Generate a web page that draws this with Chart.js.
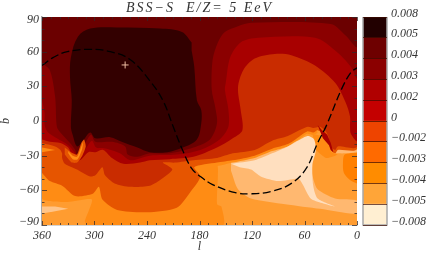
<!DOCTYPE html>
<html><head><meta charset="utf-8">
<style>html,body{margin:0;padding:0;background:#fff;width:436px;height:253px;overflow:hidden}
canvas{position:absolute;top:0}</style>
<script src="https://cdn.jsdelivr.net/npm/chart.js@4/dist/chart.umd.min.js"></script>
</head><body>
<canvas id="map" width="436" height="253" style="left:0"></canvas>
<canvas id="bar" width="78" height="253" style="left:358px"></canvas>
<script>
const titleText = 'BSS\u2212S  E/Z= 5 EeV';
const barLabels = ['0.008','0.005','0.004','0.003','0.002','0','\u22120.002','\u22120.003','\u22120.004','\u22120.005','\u22120.008'];
const barColors = ['#220000','#6e0000','#8b0000','#b00000','#c40000','#ee4400','#ff6a00','#ff8c00','#ffa538','#ffefd2'];

const bgLight = [[360,90],[0,90],[0,-90],[360,-90]];
const midOrange = [[360,-25],[360,-67],[331,-70],[303,-68],[311,-87],[307,-90],[153,-90],[155,-74],[160,-72],[159,-47],[160,-38],[187,-34]];
const tipPale = [[360,-74],[345,-74],[330,-76],[345,-78],[360,-80]];
const lightBand = [[144,-43],[136,-59],[121,-67],[82,-72],[42,-76],[0,-80],[0,-69],[25,-67],[45,-59],[50,-50],[54,-34],[50,-15],[144,-34]];
const ridgeOrange = [[51,-11],[34,-15],[29,-27],[22,-29],[35,-32],[47,-25]];
const paleCore = [[144,-37],[117,-34],[97,-28],[79,-22],[65,-16],[56,-13],[49,-16],[47,-25],[51,-38],[50,-56],[45,-67],[25,-74],[40,-71],[53,-67],[62,-55],[67,-50],[90,-52],[110,-48],[121,-42],[134,-40]];
const rightBlob = [[0,-27],[14,-29],[16,-36],[15,-45],[8,-51],[0,-54]];
const rightStrip = [[22,-23],[0,-22],[0,-27],[14,-28],[24,-28]];
const midBand = [[186,-38],[160,-39],[142,-36],[117,-32],[97,-26],[79,-22],[67,-16],[57,-11],[50,-12],[45,-10],[51,-3],[179,-16]];
const level5 = [[360,-45],[351,-52],[337,-56],[322,-65],[302,-63],[295,-57],[291,-68],[274,-77],[240,-79],[206,-75],[191,-62],[179,-48],[186,-40],[160,-36],[142,-34],[117,-30],[97,-24],[79,-20],[67,-14],[57,-9],[50,-10],[45,-8],[34,-14],[30,-25],[25,-28],[22,-25],[0,-24],[0,90],[360,90]];
const leftStreak = [[360,-23],[345,-25],[360,-27]];
const level4 = [[360,-19],[345,-22],[339,-25],[337,-28],[337,-32],[334,-37],[320,-42],[305,-48],[299,-47],[291,-40],[288,-47],[277,-54],[259,-57],[237,-56],[225,-51],[211,-42],[222,-36],[208,-36],[187,-34],[160,-32],[142,-28],[117,-25],[97,-17],[79,-13],[63,-7],[56,-5],[50,-6],[42,-5],[34,-11],[29,-23],[25,-25],[22,-22],[0,-22],[0,90],[360,90]];
const level3 = [[360,-16],[351,-18],[339,-19],[330,-23],[325,-31],[317,-34],[307,-27],[299,-27],[290,-25],[280,-32],[267,-37],[248,-36],[237,-34],[214,-33],[187,-31],[160,-23],[142,-15],[131,-8],[133,10],[136,29],[130,44],[117,54],[94,58],[75,57],[48,48],[25,33],[13,16],[8,4],[8,-5],[7,-11],[0,-17],[0,90],[360,90]];
const level2 = [[360,18],[357,7],[357,-3.5],[353,-10],[343,-15],[330,-21],[323,-27],[319,-31],[311,-25],[303,-17],[298,-23],[286,-24],[271,-28],[259,-34],[237,-30],[206,-29],[179,-25],[157,-16],[147,-5],[147,10],[151,27],[150,33],[145,55],[133,68],[113,72],[48,72],[25,61],[7,47],[0,37],[0,90],[360,90]];
const level1 = [[360,50],[351,44],[345,21],[343,-5],[339,-10],[328,-19],[322,-25],[320,-29],[312,-21],[304,-12],[299,-18],[280,-18],[265,-22],[262,-29],[251,-31],[237,-28],[214,-28],[187,-23],[168,-16],[160,-2],[162,12],[166,27],[165,53],[159,68],[151,77],[136,82],[121,85],[30,84],[13,74],[0,64],[0,90],[360,90]];
const level0 = [[189,68],[200,77],[225,80],[274,81],[305,80],[319,73],[327,55],[328,38],[326,18],[327,-5],[325,-12],[320,-22],[314,-18],[305,-10],[299,-15],[282,-14],[269,-18],[251,-23],[237,-27],[217,-27],[199,-23],[183,-16],[178,-2],[178,9.5],[183,18],[186,47],[189,61]];
const hookHalo = [[334,-23],[325,-28],[320,-29],[315,-19],[312,-16],[310,-22],[314,-30],[320,-36],[326,-36],[334,-29]];
const hookCore = [[330,-26],[325,-30],[320,-31],[316,-24],[313,-18],[314,-24],[317,-30],[320,-33.5],[325,-33],[330,-28]];
const ridgeFleck = [[45,-3.5],[40,-8],[34,-12],[30,-19],[27,-27],[30,-25],[32,-21],[39,-15]];
const dashCurve = [[360,48],[347,55],[331,60],[305,62],[282,60],[259,53],[237,35],[222,18],[210,-5],[200,-24],[189,-41],[179,-48],[165,-55],[139,-62],[121,-63],[98,-61],[75,-54],[58,-41],[45,-19],[35,-4],[18,27],[7,42],[0,46]];
const crossMark = [[265,48.5]];

// painted bottom to top: [points, colour, curve]
const regions = [
  [bgLight,'#ff9c30',0],[midOrange,'#ff8c14',0.2],[tipPale,'#ffc488',0],[lightBand,'#ffb870',0.25],
  [ridgeOrange,'#ff8c14',0.2],[midBand,'#ff8c14',0.2],[rightBlob,'#ff8000',0.3],[rightStrip,'#ffb870',0.1],[paleCore,'#ffdfbf',0.25],
  [level5,'#e65500',0.25],[leftStreak,'#ff8c14',0],[level4,'#c92c00',0.25],[level3,'#a80000',0.3],[level2,'#8b0000',0.3],
  [level1,'#6b0000',0.3],[level0,'#330000',0.35],[hookHalo,'#e65500',0.2],[hookCore,'#ff8c14',0.2],[ridgeFleck,'#a80000',0]
];
const toPts = a => a.map(p => ({x:p[0], y:p[1]}));
const n = regions.length;
const datasets = regions.map((r,i) => ({
  data: toPts(r[0]), showLine:true, fill:'shape', backgroundColor:r[1], borderWidth:0,
  borderColor:'transparent', pointRadius:0, tension:r[2], order:n+5-i
}));
datasets.push({data:toPts(dashCurve), showLine:true, fill:false, borderColor:'#000', borderWidth:1.3,
  borderDash:[8,3.5], pointRadius:0, tension:0.4, order:1});
datasets.push({data:toPts(crossMark), showLine:false, pointStyle:'cross', pointRadius:3.5,
  pointBorderColor:'#eebba0', pointBorderWidth:1, order:0});

const serif = '"Liberation Serif", serif';
const tickFont = {family:serif, style:'italic', size:12};
const GRAY = '#a8a8a8';

const frameTicks = {
  id:'frameTicks',
  beforeDraw(c){
    const t = c.titleBlock;
    if (t && !t._spaced){ t._spaced = true; const d = t.draw;
      t.draw = function(){ const g=this.ctx; g.save(); g.letterSpacing='2px'; d.call(this); g.restore(); }; }
    c.scales.y.getLabelItems(c.chartArea).forEach(it => {
      if (it.label==='90' && !it._m){ it._m=1; it.options.translation[1]+=3; }
      if (it.label==='\u221290' && !it._m){ it._m=1; it.options.translation[1]-=3; }
    });
  },
  afterDatasetsDraw(c){
    const g = c.ctx, a = c.chartArea, X = c.scales.x, Y = c.scales.y;
    g.save(); g.lineWidth = 1; g.strokeStyle = 'rgba(50,40,40,0.75)';
    g.beginPath();
    X.ticks.forEach(t => { const p = Math.round(X.getPixelForValue(t.value))+0.5, L = t.value%60===0?4:2;
      g.moveTo(p,a.bottom); g.lineTo(p,a.bottom-L); g.moveTo(p,a.top); g.lineTo(p,a.top+L); });
    Y.ticks.forEach(t => { const p = Math.round(Y.getPixelForValue(t.value))+0.5, L = t.value%30===0?5:2.5;
      g.moveTo(a.left,p); g.lineTo(a.left+L,p); g.moveTo(a.right,p); g.lineTo(a.right-L,p); });
    g.stroke(); g.restore();
  }
};

new Chart(document.getElementById('map'), {
  type:'scatter',
  data:{datasets},
  plugins:[frameTicks],
  options:{
    responsive:false, animation:false, events:[],
    layout:{padding:{left:0,right:79,top:0,bottom:0}},
    plugins:{legend:{display:false}, tooltip:{enabled:false},
      title:{display:true, text:titleText, fullSize:false, color:'#333',
        font:{family:serif, style:'italic', size:14, weight:'normal', lineHeight:1.2}, padding:{top:0,bottom:0.2}}},
    scales:{
      x:{type:'linear', reverse:true, min:0, max:360,
        afterFit(s){ s.height = 28; },
        grid:{display:false, drawTicks:false}, border:{display:true,color:GRAY,width:1.5},
        ticks:{stepSize:10, autoSkip:false, maxRotation:0, padding:4, color:'#333', font:tickFont,
          callback:v => v%60===0 ? String(v) : ''},
        title:{display:true, text:'l', color:'#333', font:{family:serif,style:'italic',size:12,lineHeight:1}, padding:0}},
      y:{type:'linear', min:-90, max:90,
        afterFit(s){ s.width = 42; },
        grid:{display:false, drawTicks:false}, border:{display:true,color:GRAY,width:1.5},
        ticks:{stepSize:10, autoSkip:false, padding:3, color:'#333', font:tickFont,
          callback:v => v%30===0 ? String(v).replace('-','\u2212') : ''},
        title:{display:true, text:'b', color:'#333', font:{family:serif,style:'italic',size:12,lineHeight:1}, padding:0}}
    }
  }
});

const barFrame = {
  id:'barFrame',
  afterDatasetsDraw(c){
    const g=c.ctx,a=c.chartArea; g.save(); g.strokeStyle=GRAY; g.lineWidth=1.5;
    g.beginPath(); g.moveTo(a.left,a.top); g.lineTo(a.left,a.bottom); g.lineTo(a.right,a.bottom); g.lineTo(a.right,a.top); g.stroke(); g.restore();
  }
};
new Chart(document.getElementById('bar'), {
  type:'bar',
  data:{labels:['c'], datasets:barColors.slice().reverse().map(col => ({data:[1], backgroundColor:col, barPercentage:1, categoryPercentage:1}))},
  plugins:[barFrame],
  options:{
    responsive:false, animation:false, events:[],
    layout:{padding:{left:5,right:0,top:17,bottom:28}},
    plugins:{legend:{display:false}, tooltip:{enabled:false}},
    scales:{
      x:{stacked:true, display:false},
      y:{stacked:true, position:'right', min:0, max:10,
        afterFit(s){ s.width = 49; },
        grid:{drawTicks:false, z:1, color:'rgba(60,10,0,0.7)', lineWidth:1}, border:{display:false},
        ticks:{stepSize:1, autoSkip:false, padding:4, labelOffset:-3.5, color:'#333', font:tickFont,
          callback:v => barLabels[10-v]}}
    }
  }
});
</script>
</body></html>
